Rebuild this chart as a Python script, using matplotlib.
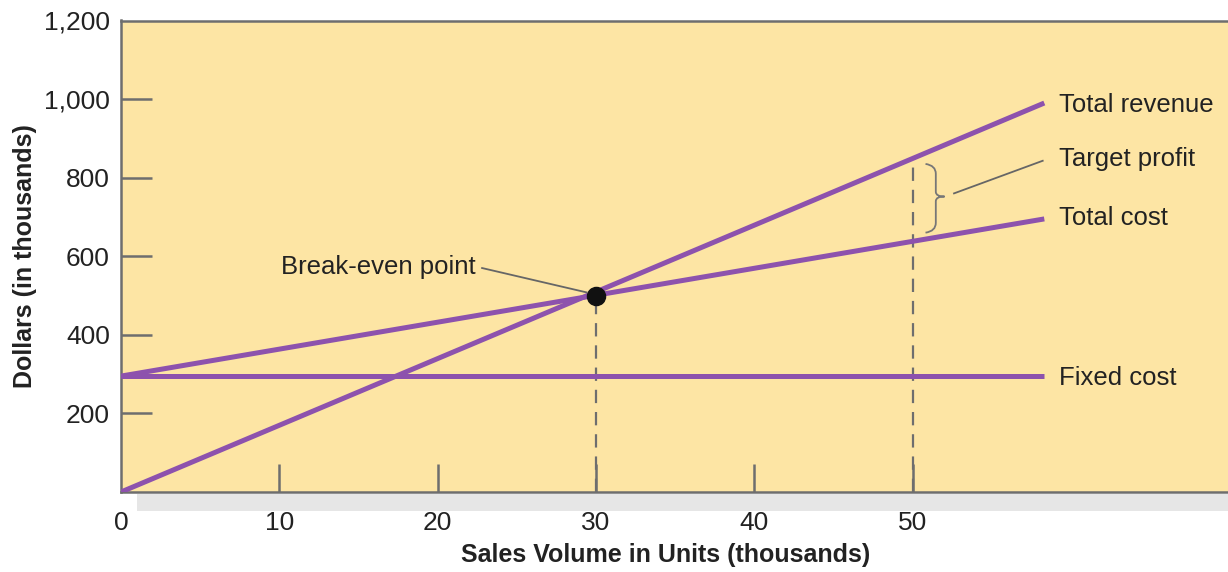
import matplotlib
matplotlib.use("Agg")
import matplotlib.pyplot as plt
from matplotlib.patches import Rectangle, PathPatch
from matplotlib.path import Path

plt.rcParams['font.family'] = ['Liberation Sans Narrow', 'Liberation Sans', 'DejaVu Sans']

# Sales volume (thousands of units) and dollar amounts (thousands)
units = [0, 58.3]
total_revenue = [0, 990]
total_cost = [295, 695]
fixed_cost = [295, 295]
break_even = (30, 500)
target_units = 50

x_ticks = [0, 10, 20, 30, 40, 50]
y_ticks = [200, 400, 600, 800, 1000, 1200]
y_tick_labels = ["200", "400", "600", "800", "1,000", "1,200"]

purple = "#8D52AD"
bg = "#FDE5A4"
grey = "#6E6E6E"
text_c = "#222222"
fs = 18.5

fig = plt.figure(figsize=(12.28, 5.72), dpi=100)
ax = fig.add_axes([121 / 1228, 1 - 492 / 572, 1 - 121 / 1228, (492 - 20.5) / 572])
ax.set_facecolor(bg)
ax.set_xlim(0, 69.9)
ax.set_ylim(0, 1200)

# shadow strip under the x-axis
fig.patches.append(Rectangle((137 / 1228, 1 - 511 / 572), 1.0, 17 / 572,
                             transform=fig.transFigure, facecolor="#E6E6E6",
                             edgecolor="none", zorder=0))

for s in ["left", "top", "bottom"]:
    ax.spines[s].set_color(grey)
    ax.spines[s].set_linewidth(1.8)
ax.spines["right"].set_visible(False)

ax.set_xticks(x_ticks)
ax.set_xticklabels([str(v) for v in x_ticks])
ax.set_yticks(y_ticks)
ax.set_yticklabels(y_tick_labels)
ax.tick_params(axis="both", direction="in", color=grey, width=1.8,
               labelsize=19, labelcolor=text_c)
ax.tick_params(axis="y", length=22, pad=8)
ax.tick_params(axis="x", length=20, pad=14)
# no tick marks where the labels sit on a spine
ax.xaxis.get_major_ticks()[0].tick1line.set_visible(False)
ax.yaxis.get_major_ticks()[-1].tick1line.set_visible(False)

# cost / revenue lines
ax.plot(units, fixed_cost, color=purple, lw=3.6, solid_capstyle="butt", zorder=3)
ax.plot(units, total_cost, color=purple, lw=3.6, solid_capstyle="butt", zorder=3)
ax.plot(units, total_revenue, color=purple, lw=3.6, solid_capstyle="butt", zorder=3)

# dashed guides at break-even and target volume
rev_slope = (total_revenue[1] - total_revenue[0]) / (units[1] - units[0])
rev_at_target = total_revenue[0] + rev_slope * target_units
ax.plot([break_even[0]] * 2, [0, break_even[1]], color=grey, lw=1.6,
        dashes=(6, 4), zorder=2)
ax.plot([target_units] * 2, [0, rev_at_target], color=grey, lw=1.6,
        dashes=(6, 4), zorder=2)

ax.scatter([break_even[0]], [break_even[1]], s=170, color="#111111", zorder=5)

# curly brace marking the profit gap
x0, xm, xt = 50.8, 51.45, 52.0
yt, yb, ym = 835, 660, 752
verts = [(x0, yt), (xm, yt - 4), (xm, yt - 25),
         (xm, ym + 12), (xm, ym), (xt, ym),
         (xm, ym), (xm, ym - 12),
         (xm, yb + 25), (xm, yb + 4), (x0, yb)]
codes = [Path.MOVETO, Path.CURVE3, Path.CURVE3,
         Path.LINETO, Path.CURVE3, Path.CURVE3,
         Path.CURVE3, Path.CURVE3,
         Path.LINETO, Path.CURVE3, Path.CURVE3]
ax.add_patch(PathPatch(Path(verts, codes), facecolor="none", edgecolor="#777777",
                       lw=1.3, zorder=4))

# leader lines
ax.plot([52.6, 58.2], [760, 843], color="#666666", lw=1.3, zorder=4)
ax.plot([22.8, 29.4], [570, 508], color="#666666", lw=1.3, zorder=4)

# series labels
lx = 59.2
ax.text(lx, 985, "Total revenue", fontsize=fs, color=text_c, va="center", ha="left")
ax.text(lx, 848, "Target profit", fontsize=fs, color=text_c, va="center", ha="left")
ax.text(lx, 697, "Total cost", fontsize=fs, color=text_c, va="center", ha="left")
ax.text(lx, 290, "Fixed cost", fontsize=fs, color=text_c, va="center", ha="left")
ax.text(22.4, 572, "Break-even point", fontsize=fs, color=text_c, va="center", ha="right")

fig.text(666 / 1228, 1 - 555 / 572, "Sales Volume in Units (thousands)", fontsize=18,
         fontweight="bold", color=text_c, ha="center", va="center")
fig.text(25 / 1228, 1 - 256 / 572, "Dollars (in thousands)", fontsize=18,
         fontweight="bold", color=text_c, ha="center", va="center", rotation=90)

fig.savefig("out.png", dpi=100)
